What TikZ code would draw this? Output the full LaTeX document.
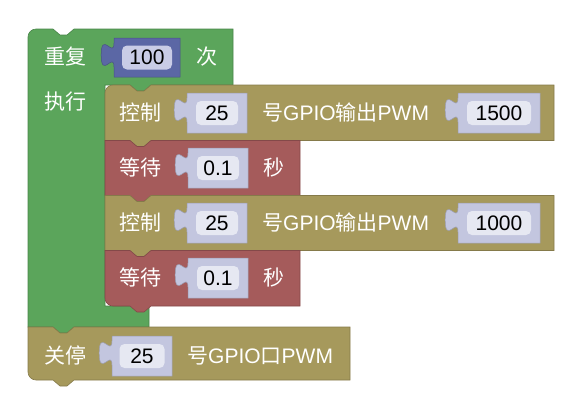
\documentclass[tikz,border=0pt]{standalone}
\usepackage{fontspec}
\setmainfont{Liberation Sans}
\newfontfamily\cjk{Noto Sans CJK SC}
\definecolor{bkgreen}{HTML}{5BA55B}
\definecolor{bkolive}{HTML}{A6995C}
\definecolor{bkred}{HTML}{A55B5B}
\definecolor{bkblue}{HTML}{5B67A5}
\definecolor{bkshadow}{HTML}{C3C6DF}
\definecolor{bkfield}{HTML}{E6E8F2}
\definecolor{bkfieldb}{HTML}{C9CCE6}
% statement block: #1 colour, #2 L, #3 T, #4 R, #5 B, #6 top-left radius, #7 bottom-left radius
\newcommand\BkStmt[7]{%
 \filldraw[fill=#1, draw=#1!80!black, line width=0.6pt]
  (#2,#3+#6) .. controls (#2,#3+0.45*#6) and (#2+0.45*#6,#3) .. (#2+#6,#3)
  -- (#2+25,#3) -- (#2+32,#3+6) -- (#2+39,#3+6) -- (#2+46,#3)
  -- (#4,#3) -- (#4,#5)
  -- (#2+46,#5) -- (#2+39,#5+6) -- (#2+32,#5+6) -- (#2+25,#5)
  -- (#2+#7,#5) .. controls (#2+0.45*#7,#5) and (#2,#5-0.45*#7) .. (#2,#5-#7)
  -- cycle;}
% value socket: #1 name, #2 L, #3 T, #4 W, #5 H, #6 outer colour, #7 field colour, #8 field width, #9 text
\newcommand\BkSock[9]{%
 \filldraw[fill=#6, draw=#6!80!black, line width=0.5pt]
  (#2,#3) -- (#2+#4,#3) -- (#2+#4,#3+#5) -- (#2,#3+#5) -- (#2,#3+29)
  .. controls (#2,#3+13) and (#2-12.8,#3+41.8) .. (#2-12.8,#3+17)
  .. controls (#2-12.8,#3-7.8) and (#2,#3+21) .. (#2,#3+5) -- cycle;
 \node[field, fill=#7, minimum width=#8pt] (#1) at (#2+#4/2, #3+#5/2) {#9};}
\begin{document}
\begin{tikzpicture}[x=1pt, y=-1pt,
  field/.style={rounded corners=5pt, minimum height=24pt, inner sep=0pt,
    font=\fontsize{21}{21}\selectfont, text=black},
  lbl/.style={anchor=base west, inner sep=0pt, text=white,
    font=\fontsize{21}{21}\selectfont}]
\useasboundingbox (0,0) rectangle (582,410);
% repeat block (C-shape)
\filldraw[fill=bkgreen, draw=bkgreen!80!black, line width=0.6pt]
 (28,37) .. controls (28,32.6) and (31.6,29) .. (36,29)
 -- (53,29) -- (60,35) -- (67,35) -- (74,29)
 -- (233,29) -- (233,85)
 -- (151,85) -- (144,91) -- (137,91) -- (130,85)
 -- (105,85) -- (105,306) -- (149,306) -- (149,327)
 -- (74,327) -- (67,333) -- (60,333) -- (53,327)
 -- (28,327) -- cycle;
% stop block
\BkStmt{bkolive}{28}{327}{350}{380}{0}{8}
% inner statements
\BkStmt{bkolive}{105}{85}{554}{140.5}{8}{0}
\BkStmt{bkred}{105}{140.5}{300}{195.5}{0}{0}
\BkStmt{bkolive}{105}{195.5}{554}{250.5}{0}{0}
\BkStmt{bkred}{105}{250.5}{300}{306}{0}{8}
% labels
\node[lbl] (l1) at (44,64) {\cjk 重复};
\node[lbl] (l2) at (196,64) {\cjk 次};
\node[lbl] (l3) at (44,109) {\cjk 执行};
\node[lbl] (c1) at (119,120) {\cjk 控制};
\node[lbl] (c1t) at (262,120) {{\cjk 号}GPIO{\cjk 输出}PWM};
\node[lbl] (w1) at (119,175) {\cjk 等待};
\node[lbl] (w1t) at (263,175) {\cjk 秒};
\node[lbl] (c2) at (119,230) {\cjk 控制};
\node[lbl] (c2t) at (262,230) {{\cjk 号}GPIO{\cjk 输出}PWM};
\node[lbl] (w2) at (119,285) {\cjk 等待};
\node[lbl] (w2t) at (263,285) {\cjk 秒};
\node[lbl] (g1) at (44,363) {\cjk 关停};
\node[lbl] (g1t) at (187,363) {{\cjk 号}GPIO{\cjk 口}PWM};
% sockets
\BkSock{s100}{114}{38}{66}{39}{bkblue}{bkfieldb}{50}{100}
\BkSock{sc1a}{187}{93}{60}{40}{bkshadow}{bkfield}{42}{25}
\BkSock{sc1b}{458}{93}{82}{40}{bkshadow}{bkfield}{64}{1500}
\BkSock{sw1}{188}{148}{60}{40}{bkshadow}{bkfield}{42}{0.1}
\BkSock{sc2a}{187}{203}{60}{40}{bkshadow}{bkfield}{42}{25}
\BkSock{sc2b}{458}{203}{82}{40}{bkshadow}{bkfield}{64}{1000}
\BkSock{sw2}{188}{258}{60}{40}{bkshadow}{bkfield}{42}{0.1}
\BkSock{sg}{112}{336}{60}{40}{bkshadow}{bkfield}{45}{25}
\end{tikzpicture}
\end{document}
